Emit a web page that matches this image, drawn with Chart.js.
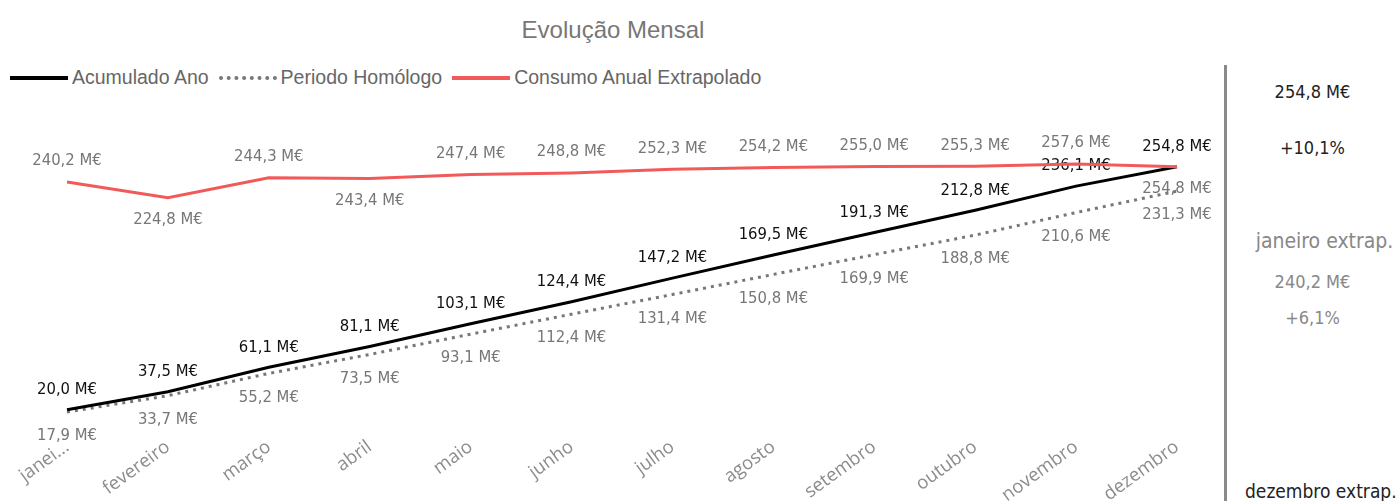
<!DOCTYPE html>
<html>
<head>
<meta charset="utf-8">
<script src="https://cdn.jsdelivr.net/npm/chart.js@4/dist/chart.umd.min.js"></script>
<style>
  body { margin: 0; background: #fff; width: 1397px; height: 501px; overflow: hidden; position: relative; }
  #title { position: absolute; left: 0; width: 1226px; top: 16px; text-align: center;
           font: 24px "Liberation Sans", Arial, sans-serif; color: #777; }
  #legend { position: absolute; left: 10px; top: 66px; font: 19.5px "Liberation Sans", Arial, sans-serif; color: #666;
            display: flex; align-items: center; white-space: nowrap; }
  #legend .sw { display: inline-block; width: 58px; height: 0; margin-right: 4px; }
  #legend .item { display: flex; align-items: center; margin-right: 10px; }
  #sep { position: absolute; left: 1224px; top: 65px; width: 3px; height: 436px; background: #8a8a8a; }
  .kpi { position: absolute; left: 1228px; width: 169px; text-align: center; white-space: nowrap;
         font: 18px "DejaVu Sans Condensed", "DejaVu Sans", sans-serif; }
  .kpi.lbl { font-size: 21px; }
  #wrap { position: absolute; left: 0; top: 0; width: 1220px; height: 501px; }
</style>
</head>
<body>
<div id="title">Evolução Mensal</div>
<div id="legend"></div>
<div id="sep"></div>
<div class="kpi" style="top:81px;color:#222">254,8 M€</div>
<div class="kpi" style="top:137px;color:#222">+10,1%</div>
<div class="kpi lbl" style="top:229px;color:#888;left:1240px">janeiro extrap.</div>
<div class="kpi" style="top:271px;color:#888">240,2 M€</div>
<div class="kpi" style="top:307px;color:#888">+6,1%</div>
<div class="kpi lbl" style="top:480px;color:#222;left:1245px;width:auto;text-align:left;font-size:19px">dezembro extrap.</div>
<div id="wrap"><canvas id="chart" width="1220" height="501"></canvas></div>
<script>
// dados
const months = ['janeiro', 'fevereiro', 'março', 'abril', 'maio', 'junho',
                'julho', 'agosto', 'setembro', 'outubro', 'novembro', 'dezembro'];
const acumuladoAno = [20.0, 37.5, 61.1, 81.1, 103.1, 124.4, 147.2, 169.5, 191.3, 212.8, 236.1, 254.8];
const periodoHomologo = [17.9, 33.7, 55.2, 73.5, 93.1, 112.4, 131.4, 150.8, 169.9, 188.8, 210.6, 231.3];
const consumoExtrapolado = [240.2, 224.8, 244.3, 243.4, 247.4, 248.8, 252.3, 254.2, 255.0, 255.3, 257.6, 254.8];
const seriesNames = ['Acumulado Ano', 'Periodo Homólogo', 'Consumo Anual Extrapolado'];

// rótulos do extrapolado que ficam por baixo da linha
const extrapBelow = [1, 3, 11];

const colors = ['#000000', '#777777', '#f25a5a'];

// legenda
const legendEl = document.getElementById('legend');
seriesNames.forEach((name, i) => {
    const item = document.createElement('span');
    item.className = 'item';
    const sw = document.createElement('span');
    sw.className = 'sw';
    sw.style.borderTop = i === 1 ? '4px dotted ' + colors[i] : '4px solid ' + colors[i];
    item.appendChild(sw);
    item.appendChild(document.createTextNode(name));
    legendEl.appendChild(item);
});

const fmt = v => v.toFixed(1).replace('.', ',') + ' M€';

const labelPlugin = {
    id: 'valueLabels',
    beforeDatasetsDraw(chart) {
        const ctx = chart.ctx;
        ctx.save();
        ctx.font = '16.5px "DejaVu Sans Condensed", "DejaVu Sans", sans-serif';
        ctx.textAlign = 'center';
        ctx.textBaseline = 'middle';
        chart.data.datasets.forEach((ds, di) => {
            const meta = chart.getDatasetMeta(di);
            meta.data.forEach((pt, i) => {
                let dy;
                if (di === 0) { dy = -20; ctx.fillStyle = '#111'; }
                else if (di === 1) { dy = 24; ctx.fillStyle = '#777'; }
                else { dy = extrapBelow.includes(i) ? 22 : -21; ctx.fillStyle = '#777'; }
                ctx.fillText(fmt(ds.data[i]), pt.x, pt.y + dy);
            });
        });
        ctx.restore();
    }
};

new Chart(document.getElementById('chart').getContext('2d'), {
    type: 'line',
    data: {
        labels: months,
        datasets: [
            { label: seriesNames[0], data: acumuladoAno, borderColor: colors[0], borderWidth: 3,
              pointRadius: 0, tension: 0, order: 2 },
            { label: seriesNames[1], data: periodoHomologo, borderColor: colors[1], borderWidth: 3,
              borderDash: [3, 5], pointRadius: 0, tension: 0, order: 3 },
            { label: seriesNames[2], data: consumoExtrapolado, borderColor: colors[2], borderWidth: 3,
              pointRadius: 0, tension: 0, order: 1 }
        ]
    },
    plugins: [labelPlugin],
    options: {
        responsive: false,
        animation: false,
        layout: { padding: { left: 67, right: 43, top: 120, bottom: 0 } },
        plugins: { legend: { display: false }, tooltip: { enabled: false } },
        scales: {
            y: { display: false, min: 15, max: 300 },
            x: {
                offset: false,
                grid: { display: false },
                border: { display: false },
                afterFit: axis => { axis.height = 86; },
                ticks: {
                    minRotation: 36, maxRotation: 36, padding: 13, autoSkip: false,
                    color: '#8c8c8c',
                    font: { family: '"Open Sans", sans-serif', size: 18.5 },
                    callback: function (value) {
                        const s = this.getLabelForValue(value);
                        return value === 0 ? s.slice(0, 5) + '...' : s;
                    }
                }
            }
        }
    }
});
</script>
</body>
</html>
